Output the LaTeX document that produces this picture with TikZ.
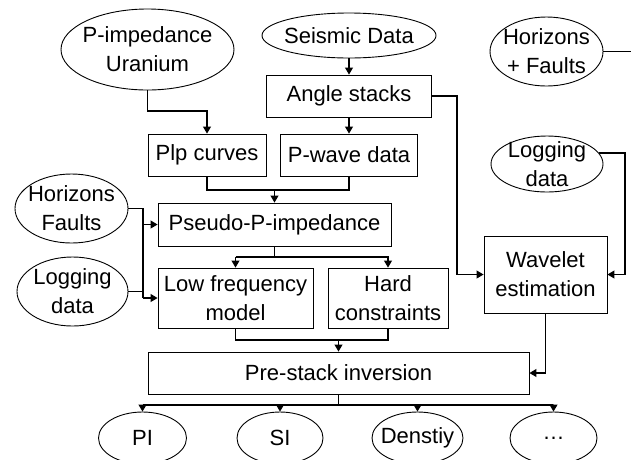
\documentclass[tikz,border=0pt]{standalone}
\usepackage{fontspec}
\setmainfont{Liberation Sans}
\usetikzlibrary{shapes.geometric,arrows.meta}
\tikzset{
  every node/.style={font=\fontsize{22}{29}\selectfont, align=center},
  boxnode/.style={draw, rectangle, inner sep=0pt, line width=0.9pt},
  ovalnode/.style={draw, ellipse, inner sep=0pt, line width=0.9pt},
  conn/.style={line width=1.1pt},
  arr/.style={conn, -{Triangle[length=7pt,width=8pt]}},
}
\begin{document}
\begin{tikzpicture}[x=1pt,y=-1pt]
\useasboundingbox (0,0) rectangle (631,459);
\clip (0,0) rectangle (631,459);
% top ellipses
\node[ovalnode, minimum width=173, minimum height=81, label={[align=center]center:P-impedance\\Uranium}] (pu) at (147.5,49.5) {};
\node[ovalnode, minimum width=174, minimum height=45, label={center:Seismic Data}] (sd) at (349,35.5) {};
\node[ovalnode, minimum width=113, minimum height=69, label={[align=center]center:Horizons\\+ Faults}] (hf2) at (546.5,51.5) {};
\node[ovalnode, minimum width=112, minimum height=56, label={[align=center]center:Logging\\data}] (ld2) at (547,164) {};
% boxes
\node[boxnode, minimum width=165, minimum height=42] (as) at (349,96) {Angle stacks};
\node[boxnode, minimum width=118, minimum height=42] (plp) at (207,155) {Plp curves};
\node[boxnode, minimum width=137, minimum height=42] (pw) at (349,155) {P-wave data};
\node[boxnode, minimum width=233, minimum height=43] (ps) at (274.5,224.5) {Pseudo-P-impedance};
\node[ovalnode, minimum width=113, minimum height=69, label={[align=center]center:Horizons\\Faults}] (hf) at (71.5,208.5) {};
\node[ovalnode, minimum width=111, minimum height=69, label={[align=center]center:Logging\\data}] (ld) at (72.5,291.5) {};
\node[boxnode, minimum width=155, minimum height=60] (lf) at (235.5,298) {Low frequency\\model};
\node[boxnode, minimum width=120, minimum height=60] (hc) at (388,298) {Hard\\constraints};
\node[boxnode, minimum width=123, minimum height=77] (we) at (545.5,274.5) {Wavelet\\estimation};
\node[boxnode, minimum width=381, minimum height=42] (pi) at (338.5,373) {Pre-stack inversion};
% outputs
\node[ovalnode, minimum width=88, minimum height=52, label={center:PI}] (o1) at (142.5,438) {};
\node[ovalnode, minimum width=86, minimum height=52, label={center:SI}] (o2) at (280,438) {};
\node[ovalnode, minimum width=91, minimum height=52, label={center:Denstiy}] (o3) at (417.5,438) {};
\node[ovalnode, minimum width=87, minimum height=52, label={center:\dots}] (o4) at (553.5,438) {};
% connectors
\draw[arr] (pu.south) -- (pu.south |- 0,111) -| (plp.north);
\draw[arr] (sd.south) -- (as.north);
\draw[arr] (as.south) -- (pw.north);
\draw[arr] (as.east) -- (as.east -| 457,0) |- (we.west);
\draw[conn] (plp.south) |- (pw.south |- 0,190) -- (pw.south);
\draw[arr] (ps.north |- 0,190) -- (ps.north);
\draw[conn] (hf.east) -| (143,298);
\draw[conn] (ld.east) -- (143,291.5);
\draw[arr] (ps.west -| 143,0) -- (ps.west);
\draw[arr] (lf.west -| 143,0) -- (lf.west);
\draw[conn] (ps.south) -- (ps.south |- 0,257);
\draw[arr] (lf.north |- 0,257) -- (lf.north);
\draw[arr] (lf.north |- 0,257) -| (hc.north);
\draw[conn] (lf.south) |- (hc.south |- 0,340) -- (hc.south);
\draw[arr] (pi.north |- 0,340) -- (pi.north);
\draw[arr] (we.south) |- (pi.east);
\draw[arr] (ld2.12) -- (ld2.12 -| 625,0) |- (we.east);
\draw[conn] (hf2.east) -- (hf2.east -| 631,0);
\draw[conn] (pi.south) -- (pi.south |- 0,405);
\draw[arr] (o1.north |- 0,405) -- (o1.north);
\draw[arr] (o1.north |- 0,405) -| (o4.north);
\draw[arr] (o2.north |- 0,405) -- (o2.north);
\draw[arr] (o3.north |- 0,405) -- (o3.north);
\end{tikzpicture}
\end{document}
